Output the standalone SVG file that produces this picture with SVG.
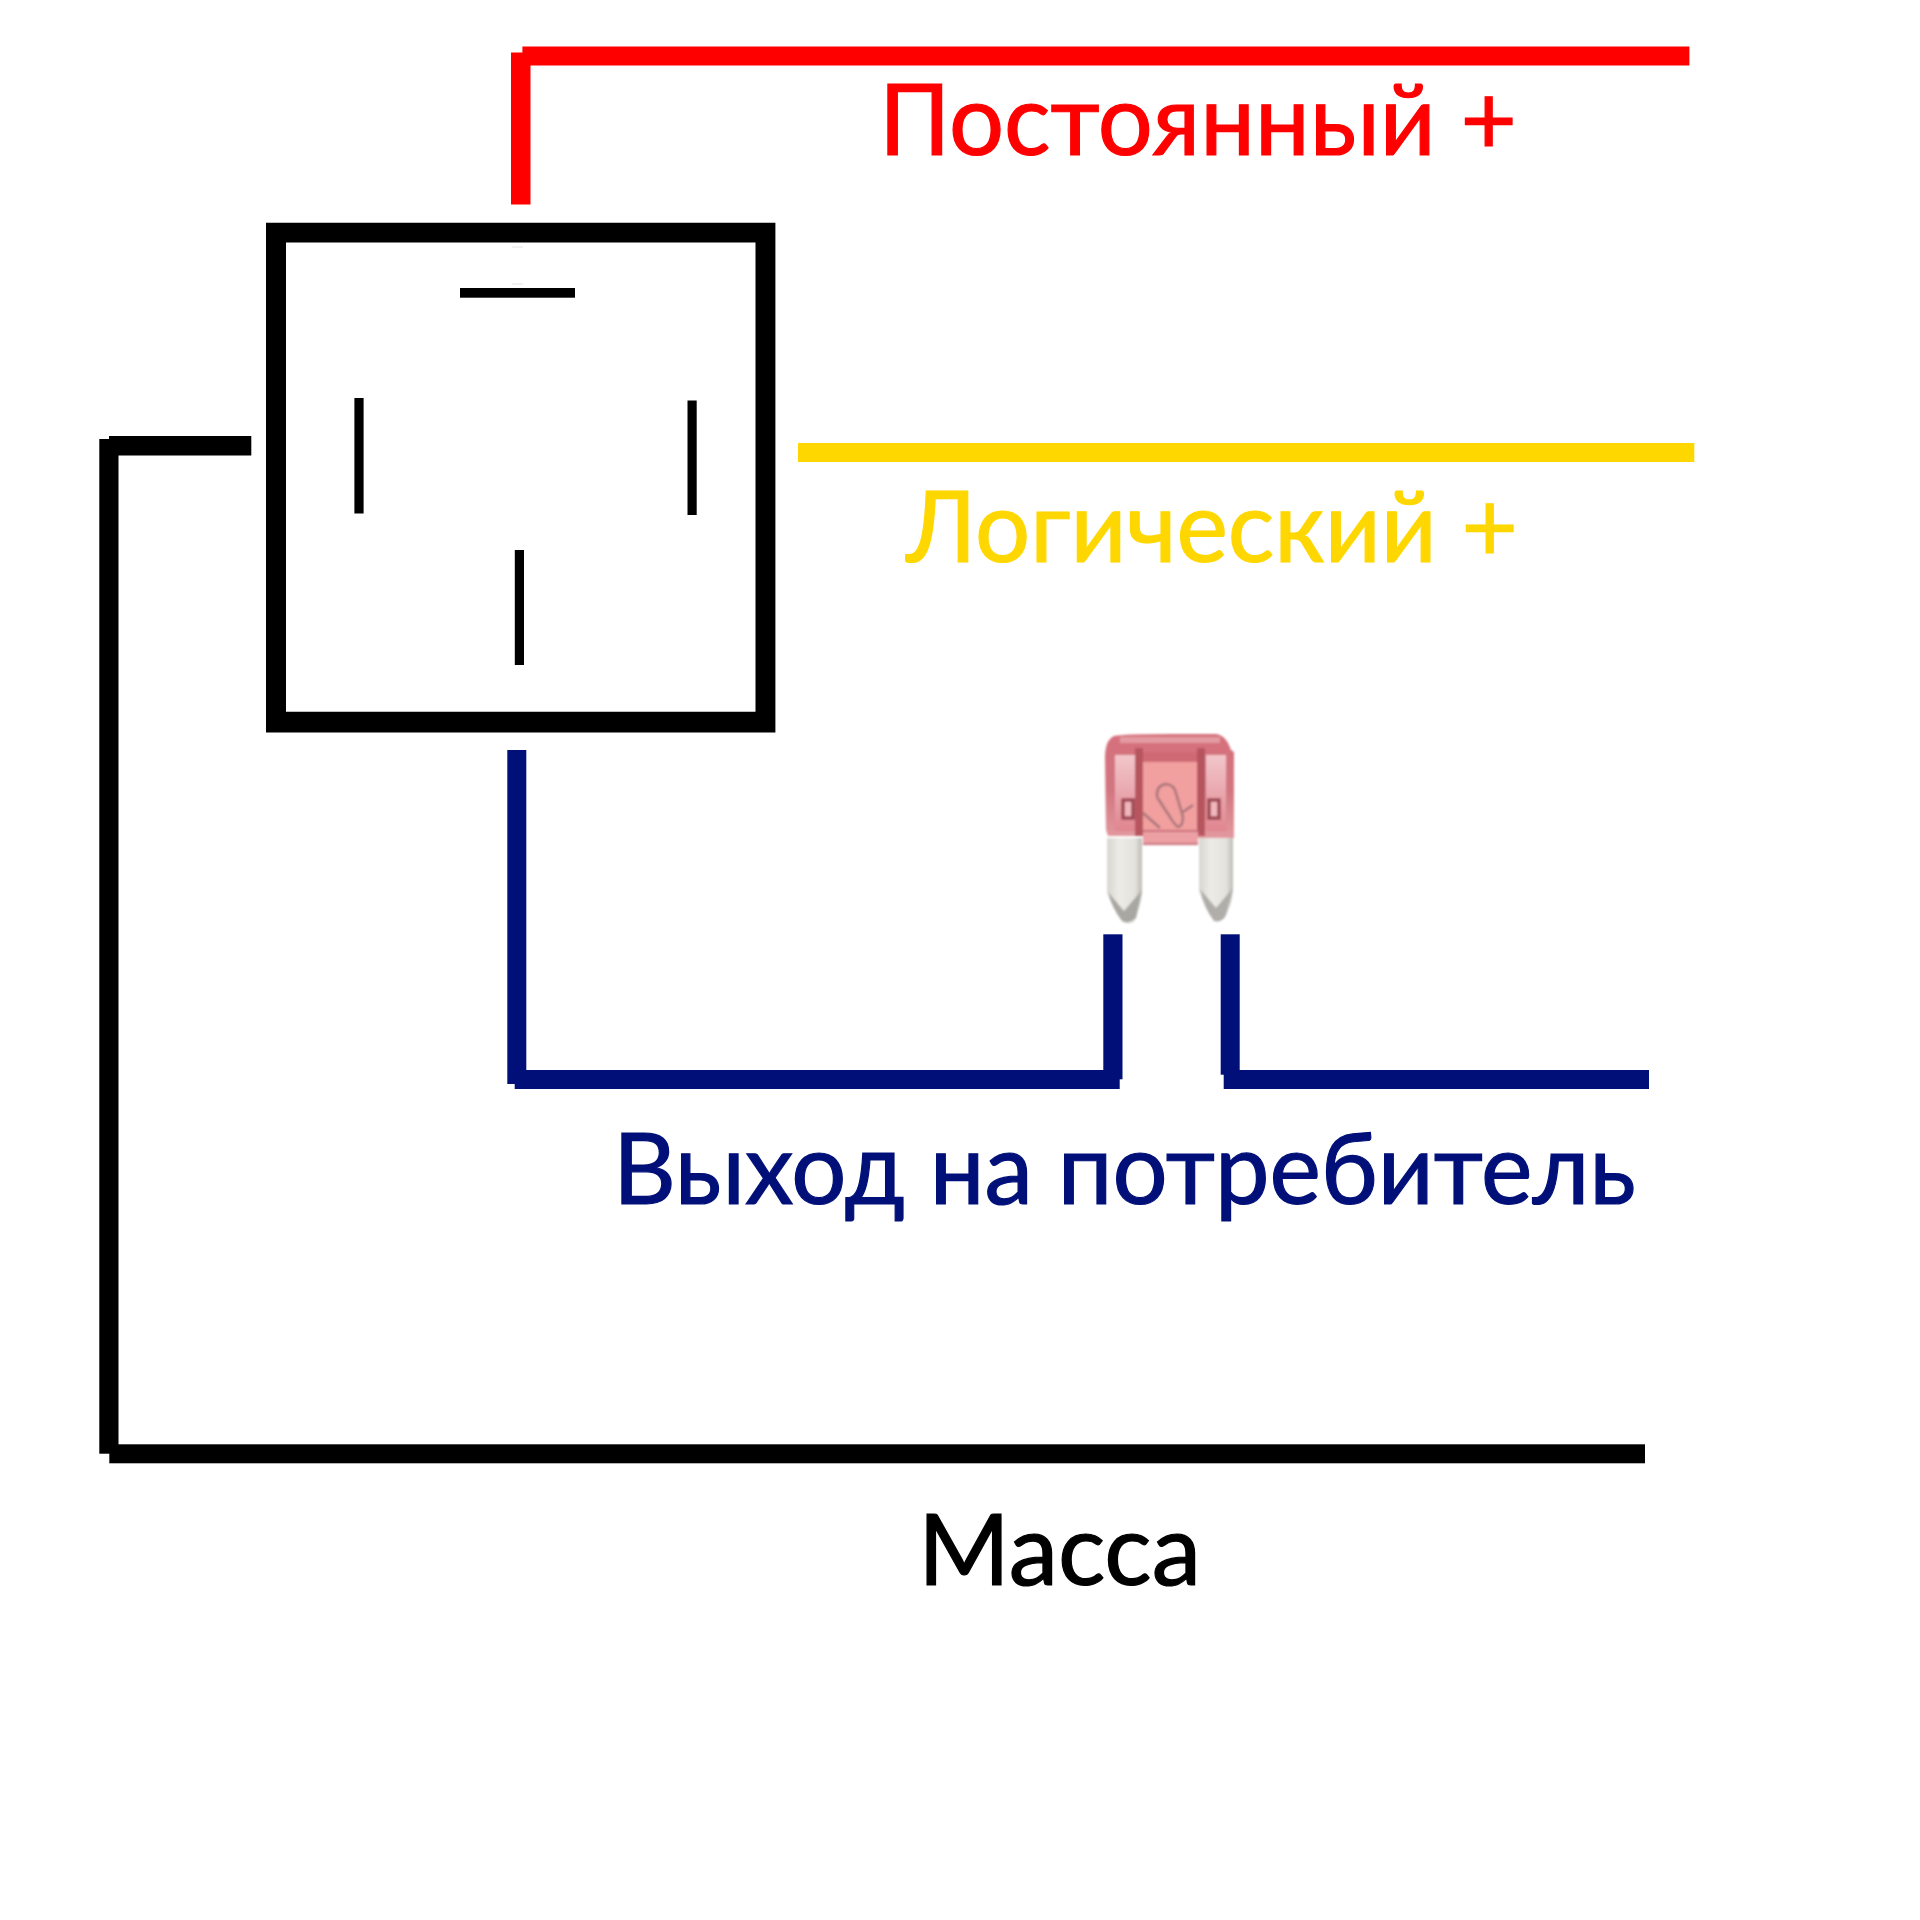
<svg xmlns="http://www.w3.org/2000/svg" width="1920" height="1920" viewBox="0 0 1920 1920">
<style>
.l{font-family:Lato,"Liberation Sans",sans-serif;font-size:98px;stroke-width:1.200px}
.k{fill:#000}.r{fill:#f00}.y{fill:#ffd700}.b{fill:#001078}
</style>
<defs>
<linearGradient id="blade" x1="0" y1="0" x2="1" y2="0">
<stop offset="0" stop-color="#d8d6d0"/><stop offset=".35" stop-color="#ecebe6"/><stop offset=".8" stop-color="#e4e2dd"/><stop offset="1" stop-color="#bdbbb6"/>
</linearGradient>
<linearGradient id="body" x1="0" y1="0" x2="0" y2="1">
<stop offset="0" stop-color="#d5707b"/><stop offset=".5" stop-color="#d27580"/><stop offset="1" stop-color="#e59ea3"/>
</linearGradient>
<linearGradient id="panel" x1="0" y1="0" x2="0" y2="1">
<stop offset="0" stop-color="#f2c6ca"/><stop offset=".5" stop-color="#e9a7ae"/><stop offset="1" stop-color="#e0858f"/>
</linearGradient>
<filter id="soft" x="-5%" y="-5%" width="110%" height="110%"><feGaussianBlur stdDeviation="1"/></filter>
</defs>
<rect width="1920" height="1920" fill="#fff"/>
<g id="connectors">
<g id="red-wire" class="r"><rect x="511" y="52.500" width="19.500" height="152"/><rect x="522.400" y="46.500" width="1167" height="19"/></g>
<rect id="yellow-wire" class="y" x="798" y="443" width="896.300" height="19"/>
<g id="blue-wire" class="b">
<rect x="507.300" y="750" width="19" height="334"/><rect x="514.700" y="1070" width="605" height="19"/>
<rect x="1103.300" y="934.300" width="19.200" height="145"/>
<rect x="1220.700" y="934.300" width="19" height="140.400"/><rect x="1223.700" y="1070" width="425.300" height="19"/>
</g>
<g id="black-wire" class="k">
<rect x="109" y="436" width="142.300" height="19.500"/><rect x="99.300" y="439" width="19.200" height="1014.700"/><rect x="109.300" y="1444.300" width="1535.700" height="19"/>
</g>
</g>
<g id="relay">
<path class="k" fill-rule="evenodd" d="M266 222.800H775.400V732.500H266ZM286 242.600V711.800H755.500V242.600Z"/>
<rect class="k" x="460" y="288" width="115" height="9.700"/>
<rect class="k" x="354.400" y="398" width="9.200" height="115.500"/>
<rect class="k" x="687.500" y="400.500" width="9.200" height="114.500"/>
<rect class="k" x="514.800" y="550" width="9.200" height="115"/>
<rect fill="#e4e4e4" x="512" y="246.500" width="11" height="1"/>
<rect fill="#e4e4e4" x="512" y="283.500" width="11" height="1"/>
</g>
<g id="fuse">
<g filter="url(#soft)">
<path d="M1107 838V892Q1112 908 1122 921Q1128 925 1134 922Q1140 908 1142 892V838Z" fill="url(#blade)"/>
<path d="M1199 838V890Q1204 908 1214 921Q1222 923 1226 915Q1232 904 1233 888V838Z" fill="url(#blade)"/>
<path d="M1108 892L1124 911L1142 890L1136 918Q1128 925 1122 921Q1112 908 1108 892Z" fill="#a9a7a2"/>
<path d="M1200 889L1216 908L1233 888L1226 915Q1222 923 1214 921Q1204 908 1200 889Z" fill="#b0aea9"/>
<path d="M1105 758Q1105 740 1114 736Q1124 734 1170 734H1216Q1226 735 1231 750L1234 752V838H1198V845H1143V836H1108L1106 830Z" fill="url(#body)"/>
<rect x="1143" y="762" width="55" height="68" fill="#f29f9f"/>
<rect x="1115" y="755" width="20" height="76" fill="url(#panel)"/>
<rect x="1206" y="755" width="20" height="76" fill="url(#panel)"/>
<rect x="1135" y="748" width="8" height="88" fill="#b7545f"/>
<rect x="1197" y="748" width="8" height="88" fill="#b7545f"/>
<rect x="1143" y="752" width="54" height="10" fill="#cf6a74"/>
<rect x="1120" y="737" width="100" height="6" fill="#e49aa1"/>
<rect x="1143" y="830" width="55" height="15" fill="#eda0a4"/>
<rect x="1123" y="800" width="10" height="18" fill="#f0b8bc" stroke="#9e4653" stroke-width="3.500"/>
<rect x="1209" y="800" width="10" height="18" fill="#f0b8bc" stroke="#9e4653" stroke-width="3.500"/>
<path d="M1143 813L1160 828M1157 797Q1156 786 1165 784Q1172 784 1175 790L1183 817Q1183 826 1178 827Q1174 824 1170 817L1157 797M1183 812L1193 805" fill="none" stroke="#a9767a" stroke-width="2.500"/>
<rect x="1143" y="830" width="55" height="2" fill="#c9717b"/>
<rect x="1143" y="843" width="55" height="2" fill="#c9717b"/>
</g>
</g>
<g id="labels">
<text class="l" x="879" y="155" fill="#f00" stroke="#f00" textLength="638" lengthAdjust="spacingAndGlyphs">Постоянный +</text>
<text class="l" x="906" y="562" fill="#ffd700" stroke="#ffd700" textLength="612" lengthAdjust="spacingAndGlyphs">Логический +</text>
<text class="l" x="613" y="1204" fill="#001078" stroke="#001078" textLength="1023" lengthAdjust="spacingAndGlyphs">Выход на потребитель</text>
<text class="l" x="918" y="1585" fill="#000" stroke="#000" textLength="283" lengthAdjust="spacingAndGlyphs">Масса</text>
</g>
</svg>
